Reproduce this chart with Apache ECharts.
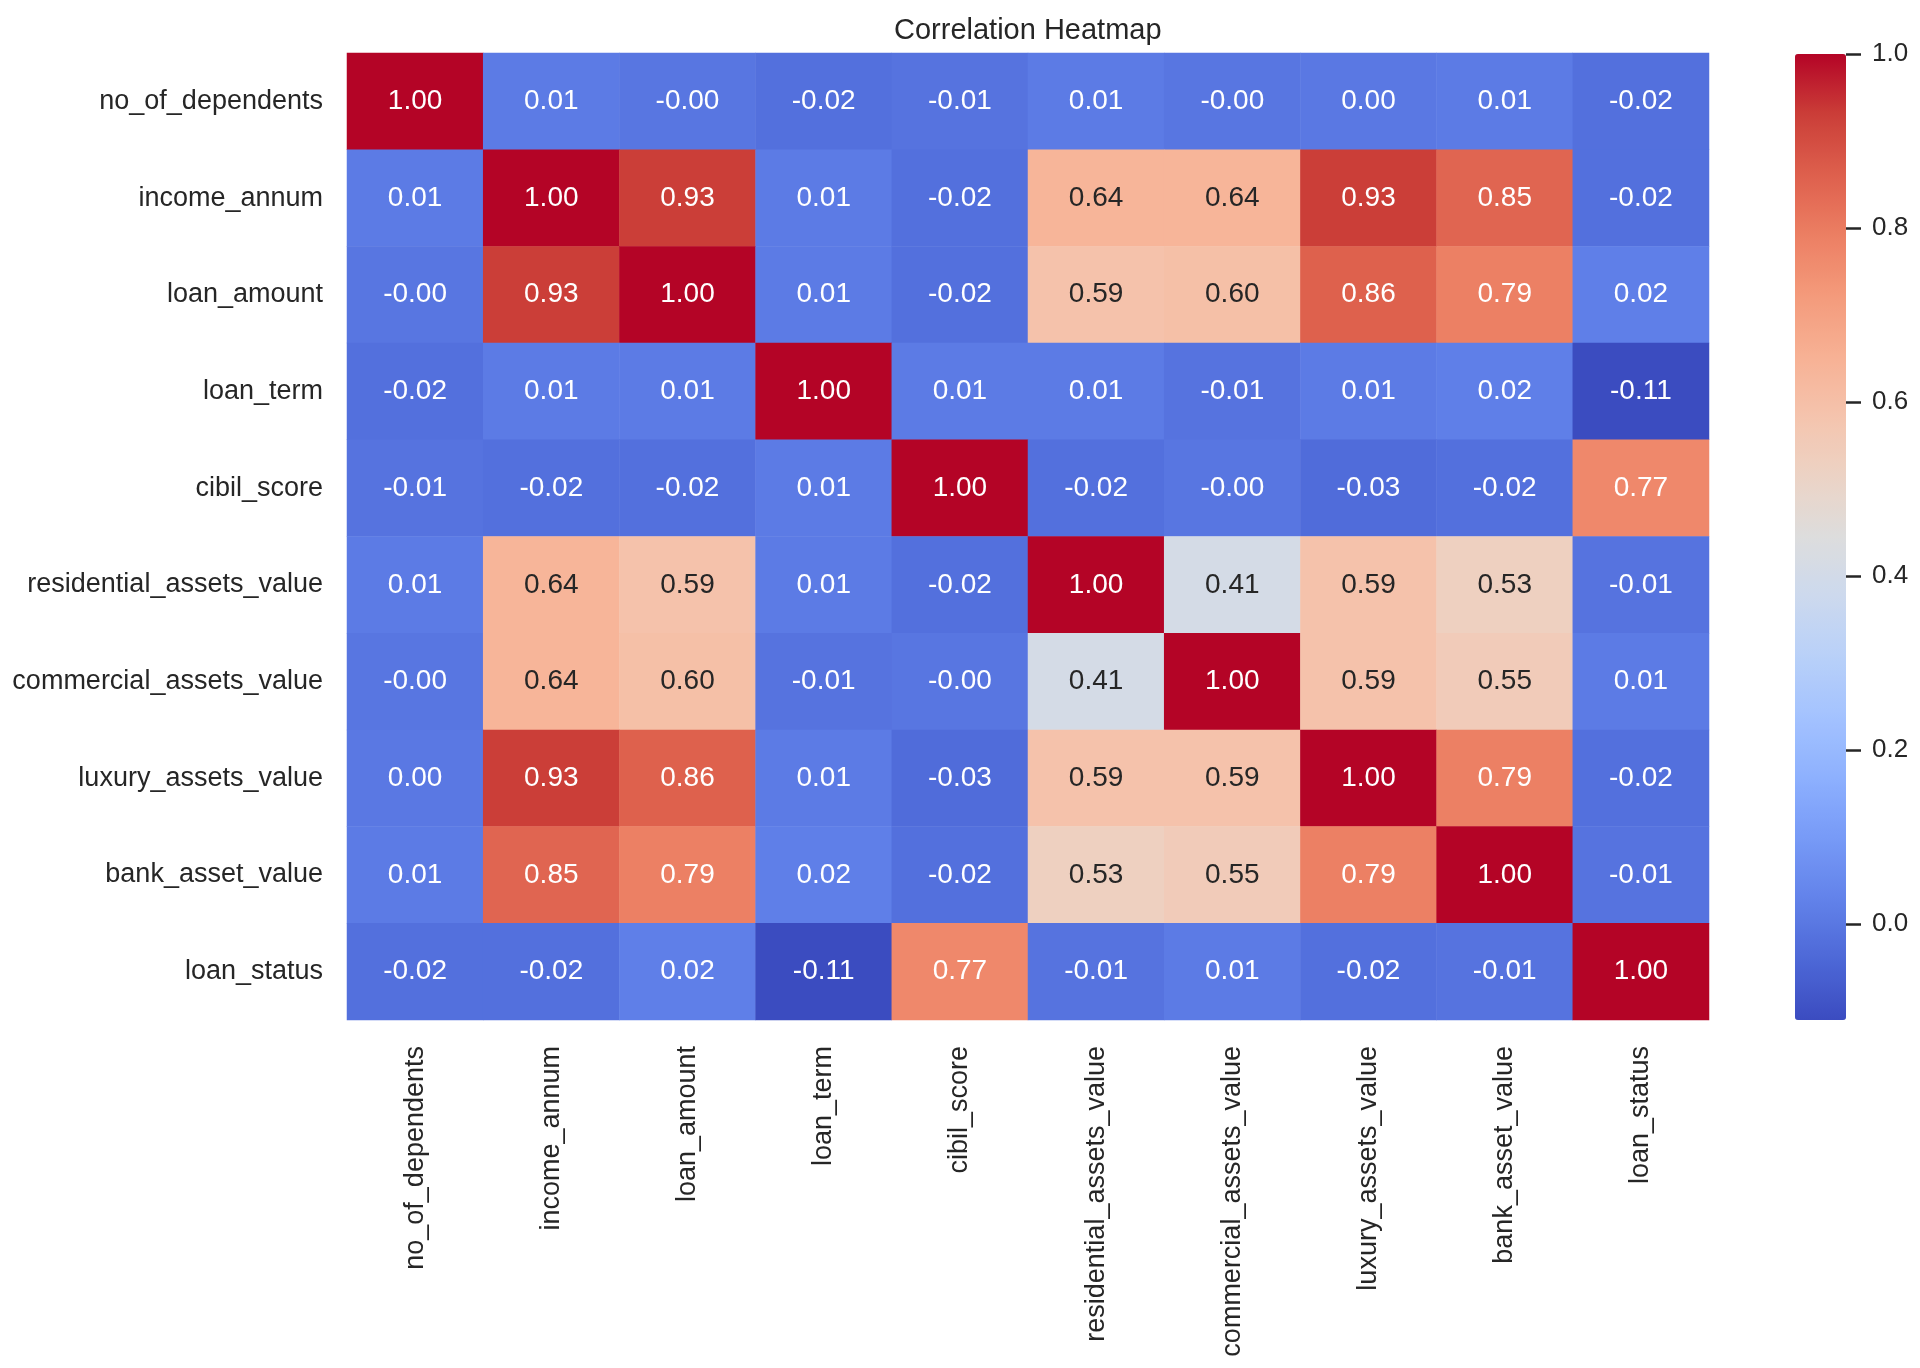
<!DOCTYPE html>
<html>
<head>
<meta charset="utf-8">
<title>Correlation Heatmap</title>
<script src="https://cdn.jsdelivr.net/npm/echarts@6/dist/echarts.min.js"></script>
<style>
    html, body { margin: 0; padding: 0; background: #ffffff; }
    #chart { width: 1920px; height: 1368px; }
</style>
</head>
<body>
<div id="chart"></div>
<script>
var columns = ['no_of_dependents', 'income_annum', 'loan_amount', 'loan_term', 'cibil_score',
    'residential_assets_value', 'commercial_assets_value', 'luxury_assets_value', 'bank_asset_value', 'loan_status'];
var rows = columns.slice();

// correlation values, one list per row
var rowNoOfDependents = [1.00, 0.01, -0.004, -0.02, -0.01, 0.01, -0.004, 0.003, 0.01, -0.02];
var rowIncomeAnnum = [0.01, 1.00, 0.93, 0.01, -0.02, 0.64, 0.64, 0.93, 0.85, -0.02];
var rowLoanAmount = [-0.004, 0.93, 1.00, 0.01, -0.02, 0.59, 0.60, 0.86, 0.79, 0.02];
var rowLoanTerm = [-0.02, 0.01, 0.01, 1.00, 0.01, 0.01, -0.01, 0.01, 0.02, -0.11];
var rowCibilScore = [-0.01, -0.02, -0.02, 0.01, 1.00, -0.02, -0.004, -0.03, -0.02, 0.77];
var rowResidential = [0.01, 0.64, 0.59, 0.01, -0.02, 1.00, 0.41, 0.59, 0.53, -0.01];
var rowCommercial = [-0.004, 0.64, 0.60, -0.01, -0.004, 0.41, 1.00, 0.59, 0.55, 0.01];
var rowLuxury = [0.003, 0.93, 0.86, 0.01, -0.03, 0.59, 0.59, 1.00, 0.79, -0.02];
var rowBank = [0.01, 0.85, 0.79, 0.02, -0.02, 0.53, 0.55, 0.79, 1.00, -0.01];
var rowLoanStatus = [-0.02, -0.02, 0.02, -0.11, 0.77, -0.01, 0.01, -0.02, -0.01, 1.00];

var matrix = [rowNoOfDependents, rowIncomeAnnum, rowLoanAmount, rowLoanTerm, rowCibilScore,
    rowResidential, rowCommercial, rowLuxury, rowBank, rowLoanStatus];

var colorbarTicks = [0.0, 0.2, 0.4, 0.6, 0.8, 1.0];
var scaleMin = -0.11;
var scaleMax = 1.0;

// coolwarm colour stops
var coolwarm = ['#3b4cc0', '#4d68d7', '#6282ea', '#779af7', '#8db0fe', '#a3c2ff', '#b8d0f9', '#ccd9ee',
    '#dddddd', '#ecd3c5', '#f5c4ad', '#f7b194', '#f49a7b', '#ec7f63', '#de604d', '#cb3e38', '#b40426'];

var font = 'Liberation Sans, Arial, Helvetica, sans-serif';
var textDark = '#262626';

var cells = [];
matrix.forEach(function (r, i) {
    r.forEach(function (v, j) {
        var light = v > 0.3 && v < 0.7;
        cells.push({
            value: [j, i, v],
            label: { color: light ? textDark : '#ffffff' }
        });
    });
});

var chart = echarts.init(document.getElementById('chart'));
var option = {
    backgroundColor: '#ffffff',
    animation: false,
    title: {
        text: 'Correlation Heatmap',
        left: 894,
        top: 16,
        padding: 0,
        textStyle: { fontFamily: font, fontSize: 29, fontWeight: 'normal', color: textDark }
    },
    grid: [
        { left: 347, top: 53, width: 1362, height: 967 },
        // colour bar scale sits just right of the bar
        { left: 1846, top: 54, width: 60, height: 966 }
    ],
    xAxis: [
        {
            type: 'category',
            data: columns,
            gridIndex: 0,
            position: 'bottom',
            axisLine: { show: false },
            axisTick: { show: false },
            splitArea: { show: false },
            axisLabel: {
                rotate: 90,
                margin: 26,
                interval: 0,
                fontFamily: font,
                fontSize: 27,
                color: textDark
            }
        },
        {
            type: 'value',
            gridIndex: 1,
            show: false,
            min: 0,
            max: 1
        }
    ],
    yAxis: [
        {
            type: 'category',
            data: rows,
            gridIndex: 0,
            inverse: true,
            axisLine: { show: false },
            axisTick: { show: false },
            splitArea: { show: false },
            axisLabel: {
                margin: 24,
                interval: 0,
                fontFamily: font,
                fontSize: 27,
                color: textDark
            }
        },
        {
            type: 'value',
            gridIndex: 1,
            position: 'left',
            min: scaleMin,
            max: scaleMax,
            axisLine: { show: true, lineStyle: { color: 'rgba(0,0,0,0)' } },
            splitLine: { show: false },
            axisTick: {
                show: true,
                inside: true,
                length: 15,
                customValues: colorbarTicks,
                lineStyle: { color: textDark, width: 2.5 }
            },
            axisLabel: {
                inside: true,
                margin: 26,
                customValues: colorbarTicks,
                fontFamily: font,
                fontSize: 26,
                color: textDark,
                formatter: function (v) { return v.toFixed(1); }
            }
        }
    ],
    visualMap: {
        type: 'continuous',
        seriesIndex: 0,
        min: scaleMin,
        max: scaleMax,
        orient: 'vertical',
        left: 1795,
        top: 54,
        padding: 0,
        itemWidth: 51,
        itemHeight: 966,
        calculable: false,
        hoverLink: false,
        showLabel: false,
        text: null,
        inRange: { color: coolwarm }
    },
    series: [
        {
            type: 'heatmap',
            xAxisIndex: 0,
            yAxisIndex: 0,
            data: cells,
            label: {
                show: true,
                fontFamily: font,
                fontSize: 28,
                formatter: function (p) { return p.value[2].toFixed(2); }
            },
            emphasis: { disabled: true }
        }
    ]
};
chart.setOption(option);
</script>
</body>
</html>
